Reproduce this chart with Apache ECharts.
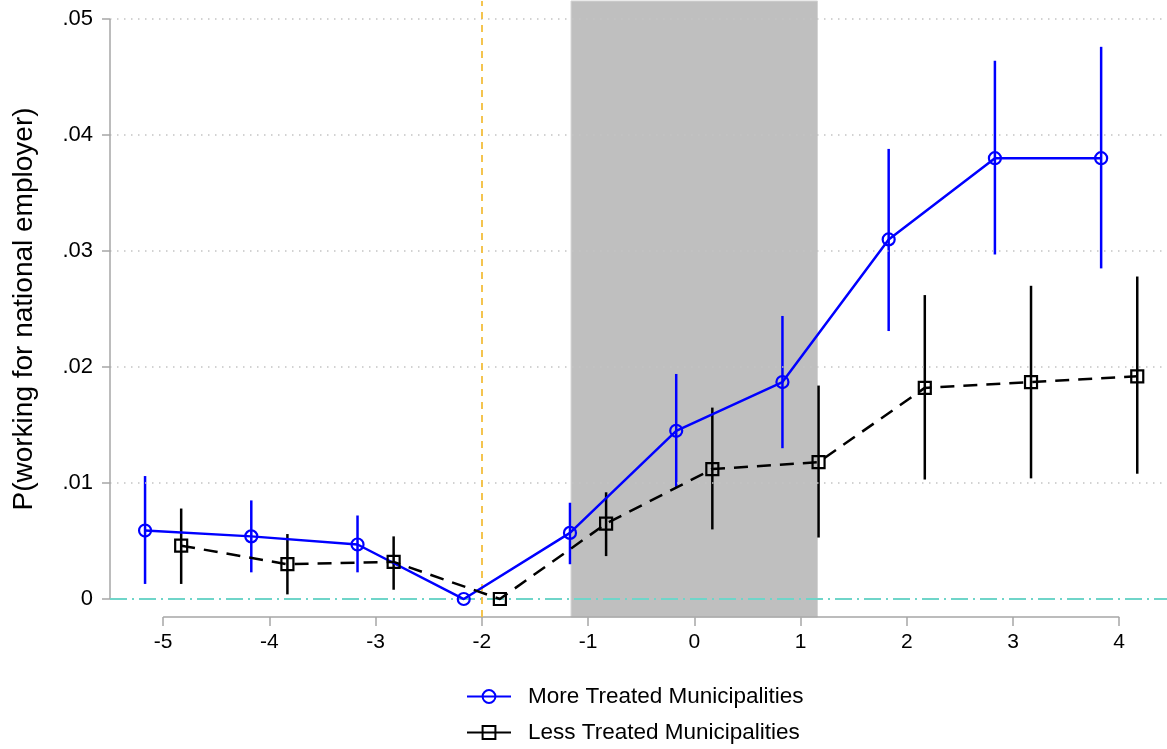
<!DOCTYPE html>
<html>
<head>
<meta charset="utf-8">
<script src="https://cdn.jsdelivr.net/npm/echarts@6/dist/echarts.min.js"></script>
<style>
  html, body { margin:0; padding:0; background:#fff; }
  #chart { width:1167px; height:749px; }
</style>
</head>
<body>
<div id="chart"></div>
<script>
// event time (x) and estimates
var xMore = [-5.17, -4.17, -3.17, -2.17, -1.17, -0.17, 0.83, 1.83, 2.83, 3.83];
var moreVal = [0.0059, 0.0054, 0.0047, 0, 0.0057, 0.0145, 0.0187, 0.031, 0.038, 0.038];
var moreLo = [0.0013, 0.0023, 0.0023, null, 0.0030, 0.0096, 0.0130, 0.0231, 0.0297, 0.0285];
var moreHi = [0.0106, 0.0085, 0.0072, null, 0.0083, 0.0194, 0.0244, 0.0388, 0.0464, 0.0476];

var xLess = [-4.83, -3.83, -2.83, -1.83, -0.83, 0.17, 1.17, 2.17, 3.17, 4.17];
var lessVal = [0.0046, 0.0030, 0.0032, 0, 0.0065, 0.0112, 0.0118, 0.0182, 0.0187, 0.0192];
var lessLo = [0.0013, 0.0004, 0.0008, null, 0.0037, 0.0060, 0.0053, 0.0103, 0.0104, 0.0108];
var lessHi = [0.0078, 0.0056, 0.0054, null, 0.0092, 0.0165, 0.0184, 0.0262, 0.0270, 0.0278];

var xTicks = [-5, -4, -3, -2, -1, 0, 1, 2, 3, 4];
var yTicks = [0, 0.01, 0.02, 0.03, 0.04, 0.05];
var yTickLabels = ['0', '.01', '.02', '.03', '.04', '.05'];
var eventLine = -2;
var shadeFrom = -1.16, shadeTo = 1.16;

var xMin = -5.5, xMax = 4.45;
var yMin = -0.00155, yMax = 0.05155;
var axisGray = '#a6a6a6';
var font = 'Arial, "Liberation Sans", sans-serif';

function pairs(xs, ys) {
    var out = [];
    for (var i = 0; i < xs.length; i++) out.push([xs[i], ys[i]]);
    return out;
}
function ciData(xs, lo, hi) {
    var out = [];
    for (var i = 0; i < xs.length; i++) {
        if (lo[i] == null) continue;
        out.push([xs[i], lo[i], hi[i]]);
    }
    return out;
}
function ciRender(color) {
    return function (params, api) {
        var a = api.coord([api.value(0), api.value(1)]);
        var b = api.coord([api.value(0), api.value(2)]);
        return {
            type: 'line',
            shape: {x1: a[0], y1: a[1], x2: b[0], y2: b[1]},
            style: {stroke: color, lineWidth: 2.5}
        };
    };
}

var chart = echarts.init(document.getElementById('chart'));

var gridLines = [];
for (var i = 1; i < yTicks.length; i++) gridLines.push({yAxis: yTicks[i]});

var option = {
    animation: false,
    textStyle: {fontFamily: font},
    grid: {left: 110, right: 0, top: 1, bottom: 132},
    legend: {
        orient: 'vertical',
        left: 466,
        top: 685,
        padding: 0,
        itemWidth: 44,
        itemHeight: 16,
        itemGap: 13,
        textStyle: {fontSize: 22.5, color: '#000', fontFamily: font, padding: [0, 0, 0, 12]},
        data: [
            {name: 'More Treated Municipalities'},
            {name: 'Less Treated Municipalities', lineStyle: {type: 'solid'}}
        ]
    },
    xAxis: {
        type: 'value',
        min: xMin,
        max: xMax,
        axisLine: {show: false, onZero: false},
        splitLine: {show: false},
        axisTick: {show: true, customValues: xTicks, length: 9, lineStyle: {color: axisGray, width: 1.5}},
        axisLabel: {customValues: xTicks, fontSize: 21, color: '#000', margin: 15, fontFamily: font}
    },
    yAxis: {
        type: 'value',
        min: yMin,
        max: yMax,
        name: 'P(working for national employer)',
        nameLocation: 'middle',
        nameGap: 72,
        nameTextStyle: {fontSize: 28, color: '#000', fontFamily: font},
        axisLine: {show: false, onZero: false},
        splitLine: {show: false},
        axisTick: {show: true, customValues: yTicks, length: 8, lineStyle: {color: axisGray, width: 1.5}},
        axisLabel: {
            customValues: yTicks, fontSize: 22, color: '#000', margin: 17, fontFamily: font,
            formatter: function (v) {
                for (var i = 0; i < yTicks.length; i++) {
                    if (Math.abs(v - yTicks[i]) < 1e-9) return yTickLabels[i];
                }
                return '';
            }
        }
    },
    series: [
        {   // grid lines and axis lines
            type: 'line', data: [], z: 1, silent: true, clip: false,
            markLine: {
                silent: true, symbol: 'none', animation: false,
                label: {show: false},
                data: gridLines.map(function (g) {
                    return {yAxis: g.yAxis, lineStyle: {color: '#c4c4c4', width: 1.5, type: [1.5, 5.5]}};
                }).concat([
                    [{coord: [xTicks[0], yMin], lineStyle: {color: axisGray, width: 1.5, type: 'solid'}},
                     {coord: [xTicks[xTicks.length - 1], yMin]}],
                    [{coord: [xMin, yTicks[0]], lineStyle: {color: axisGray, width: 1.5, type: 'solid'}},
                     {coord: [xMin, yTicks[yTicks.length - 1]]}],
                    {yAxis: 0, lineStyle: {color: '#6fd5c9', width: 2, type: [17, 5, 2, 5]}}
                ])
            }
        },
        {   // shaded window
            type: 'line', data: [], z: 2, silent: true,
            markArea: {
                silent: true,
                itemStyle: {color: '#bfbfbf', borderColor: '#d4d4d4', borderWidth: 1},
                data: [[{xAxis: shadeFrom}, {xAxis: shadeTo}]]
            }
        },
        {   // event line
            type: 'line', data: [], z: 3, silent: true,
            markLine: {
                silent: true, symbol: 'none', label: {show: false},
                data: [{xAxis: eventLine, lineStyle: {color: '#f3be3c', width: 1.8, type: [7, 6]}}]
            }
        },
        {
            type: 'custom', name: 'ciMore', z: 4,
            renderItem: ciRender('#0000ff'),
            encode: {x: 0, y: [1, 2]},
            data: ciData(xMore, moreLo, moreHi)
        },
        {
            type: 'custom', name: 'ciLess', z: 4,
            renderItem: ciRender('#000000'),
            encode: {x: 0, y: [1, 2]},
            data: ciData(xLess, lessLo, lessHi)
        },
        {
            type: 'line', name: 'More Treated Municipalities', z: 5,
            data: pairs(xMore, moreVal),
            symbol: 'circle', symbolSize: 12, showAllSymbol: true,
            lineStyle: {color: '#0000ff', width: 2.5},
            itemStyle: {color: 'rgba(255,255,255,0)', borderColor: '#0000ff', borderWidth: 2.2}
        },
        {
            type: 'line', name: 'Less Treated Municipalities', z: 5,
            data: pairs(xLess, lessVal),
            symbol: 'rect', symbolSize: 12, showAllSymbol: true,
            lineStyle: {color: '#000000', width: 2.5, type: [14, 9]},
            itemStyle: {color: 'rgba(255,255,255,0)', borderColor: '#000000', borderWidth: 2.2}
        }
    ]
};

chart.setOption(option);
</script>
</body>
</html>
